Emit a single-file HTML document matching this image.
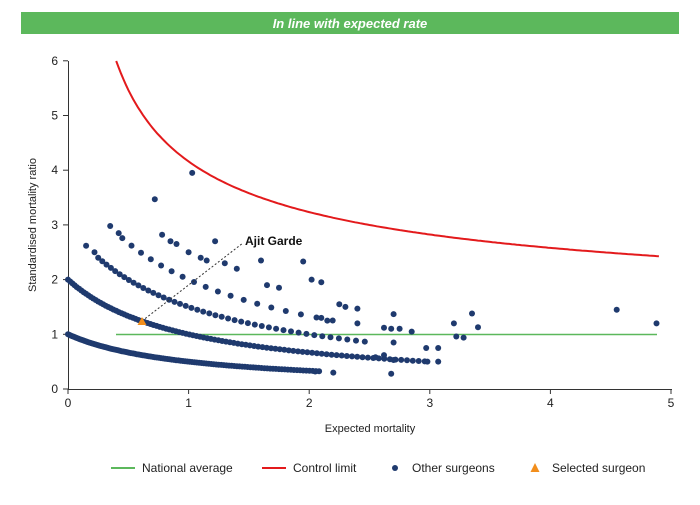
<!DOCTYPE html>
<html><head><meta charset="utf-8"><style>
body{margin:0;background:#fff;font-family:"Liberation Sans",sans-serif}
svg text{font-family:"Liberation Sans",sans-serif}
</style></head><body>
<svg id="s" width="700" height="500" xmlns="http://www.w3.org/2000/svg">
<rect x="21" y="12" width="658" height="22" fill="#5cb85c"/>
<text x="350" y="28" text-anchor="middle" fill="#fff" font-size="13" font-weight="bold" font-style="italic">In line with expected rate</text>
<g id="ax" stroke="#333" stroke-width="1" fill="none">
<line x1="68.5" y1="61" x2="68.5" y2="389"/>
<line x1="68" y1="389.5" x2="672" y2="389.5"/>
</g>
<g id="ticks" font-size="12" fill="#222"></g>
<text x="370" y="432" text-anchor="middle" font-size="11" fill="#222">Expected mortality</text>
<text transform="translate(36,225) rotate(-90)" text-anchor="middle" font-size="11" fill="#222">Standardised mortality ratio</text>
<line x1="116" y1="334.5" x2="657" y2="334.5" stroke="#5cb85c" stroke-width="1.5"/>
<path id="cl" fill="none" stroke="#e31a1c" stroke-width="2"/>
<g id="dots" fill="#1f3a6e"></g>
<line x1="142" y1="321" x2="243" y2="243" stroke="#333" stroke-width="1" stroke-dasharray="2,2"/>
<polygon points="142,317 137.5,325 146.5,325" fill="#f28e1c"/>
<text x="245" y="245" font-size="12" font-weight="bold" fill="#111">Ajit Garde</text>
<g font-size="12" fill="#222">
<line x1="111" y1="468" x2="135" y2="468" stroke="#5cb85c" stroke-width="2"/>
<text x="142" y="472">National average</text>
<line x1="262" y1="468" x2="286" y2="468" stroke="#e31a1c" stroke-width="2"/>
<text x="293" y="472">Control limit</text>
<circle cx="395" cy="468" r="3" fill="#1f3a6e"/>
<text x="412" y="472">Other surgeons</text>
<polygon points="535,463 530.5,472 539.5,472" fill="#f28e1c"/>
<text x="552" y="472">Selected surgeon</text>
</g>
</svg>
<script>
var NS="http://www.w3.org/2000/svg";
function X(e){return 68+e*120.6}function Y(v){return 389-v*54.7}
function el(t,a,p){var e=document.createElementNS(NS,t);for(var k in a)e.setAttribute(k,a[k]);if(p)document.getElementById(p).appendChild(e);return e}
for(var i=0;i<=5;i++){el("line",{x1:X(i),y1:389,x2:X(i),y2:394,stroke:"#333"},"ticks");var t=el("text",{x:X(i),y:407,"text-anchor":"middle"},"ticks");t.textContent=i;}
for(var i=0;i<=6;i++){el("line",{x1:63,y1:Y(i),x2:68,y2:Y(i),stroke:"#333"},"ticks");var t=el("text",{x:58,y:Y(i)+4,"text-anchor":"end"},"ticks");t.textContent=i;}
var d="";for(var e=0.4;e<=4.9;e+=0.02){var v=1+3.16/Math.sqrt(e);d+=(d?"L":"M")+X(e).toFixed(1)+","+Y(v).toFixed(1);}
document.getElementById("cl").setAttribute("d",d);
function dot(e,v){el("circle",{cx:X(e).toFixed(1),cy:Y(v).toFixed(1),r:3},"dots")}
var bands=[[1,0,2.1,0.012],[2,0,3.0,0.018],[3,0.25,2.5,0.03],[4,0.45,2.3,0.06]];
bands.forEach(function(b){for(var e=b[1];e<=b[2];e+=b[3]*(1+e*0.6))dot(e,b[0]/(e+1));});
[[1.03,3.95],[0.72,3.47],[0.35,2.98],[0.42,2.85],[0.15,2.62],[0.22,2.5],[0.78,2.82],[0.85,2.7],[0.9,2.65],[1.22,2.7],[1.0,2.5],[1.1,2.4],[1.15,2.35],[1.3,2.3],[1.4,2.2],[1.6,2.35],[1.95,2.33],[2.02,2.0],[2.1,1.95],[1.65,1.9],[1.75,1.85],[2.25,1.55],[2.3,1.5],[2.4,1.47],[2.1,1.3],[2.15,1.25],[2.4,1.2],[2.62,1.12],[2.68,1.1],[2.7,1.37],[2.75,1.1],[2.85,1.05],[3.2,1.2],[3.35,1.38],[3.4,1.13],[3.22,0.96],[3.28,0.94],[4.55,1.45],[4.88,1.2],[2.97,0.75],[3.07,0.75],[3.07,0.5],[2.98,0.5],[2.68,0.28],[2.7,0.53],[2.62,0.62],[2.7,0.85],[2.2,0.3],[2.55,0.58],[2.05,0.32]].forEach(function(p){dot(p[0],p[1])});
</script>
</body></html>
